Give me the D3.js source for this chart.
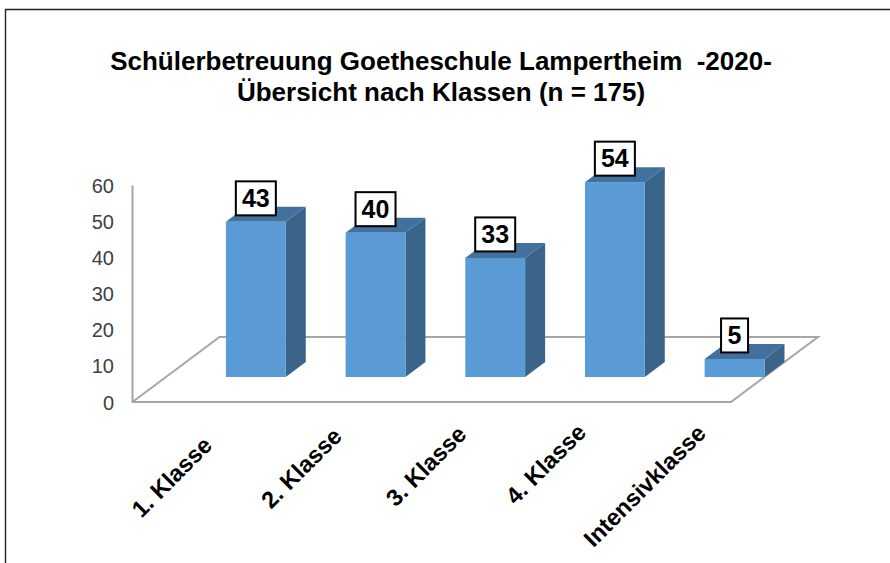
<!DOCTYPE html>
<html><head><meta charset="utf-8">
<script src="https://cdn.jsdelivr.net/npm/d3@7"></script>
<style>html,body{margin:0;background:#fff}svg{display:block}text{font-family:"Liberation Sans",Arial,sans-serif;white-space:pre}</style>
</head><body><svg id="c" width="890" height="563"></svg>
<script>
const categories = ["1. Klasse","2. Klasse","3. Klasse","4. Klasse","Intensivklasse"];
const values = [43,40,33,54,5];
const titleLines = ["Schülerbetreuung Goetheschule Lampertheim  -2020-","Übersicht nach Klassen (n = 175)"];
const yTicks = [0,10,20,30,40,50,60];

const svg = d3.select("#c");
const W=890,H=563;
const y = d3.scaleLinear().domain([0,60]).range([402,185.5]);
const x = d3.scaleBand().domain(categories).range([196,794.4]).paddingInner(0.5).paddingOuter(0.25);
const lift=25, dx=20, dy=15;
const floorFront=[132.5,731], floorDX=87, floorDY=65;
// the reference spaces its rotated labels unevenly
const labelShift=[[-19,6],[-9,-3],[-4,-5],[-4,-7],[-4,-6]];

// frame
svg.append("path").attr("d",`M5.5,${H} V9.5 H${W}`).attr("fill","none").attr("stroke","#222").attr("stroke-width",1.4);

// title
svg.append("g").selectAll("text").data(titleLines).join("text")
  .attr("x",441).attr("y",(d,i)=>70+i*31).attr("text-anchor","middle")
  .attr("font-size",26).attr("font-weight","bold").attr("fill","#000").text(d=>d);

// floor & wall
const grid="#a6a6a6";
svg.append("path").attr("fill","none").attr("stroke",grid).attr("stroke-width",2)
  .attr("d",d3.line()([[floorFront[0],y(60)],[floorFront[0],y(0)],[floorFront[1],y(0)],[floorFront[1]+floorDX,y(0)-floorDY],[floorFront[0]+floorDX,y(0)-floorDY],[floorFront[0],y(0)]]));

// y axis labels
const axisG=svg.append("g").attr("transform","translate(114,0)")
  .call(d3.axisLeft(y).tickValues(yTicks).tickSize(0).tickPadding(0));
axisG.select(".domain").remove();
axisG.selectAll("text").attr("font-size",20).attr("fill","#404040").attr("text-anchor","end").attr("dy","0.35em").style("font-family",'"Liberation Sans",Arial,sans-serif');

// bars
const bars=svg.append("g").selectAll("g").data(categories.map((c,i)=>({c,v:values[i]}))).join("g");
bars.append("path").attr("fill","#41719c").attr("d",d=>{const a=x(d.c),b=a+x.bandwidth(),t=y(d.v)-lift;
  return d3.line()([[a,t],[b,t],[b+dx,t-dy],[a+dx,t-dy]])+"Z";});
bars.append("path").attr("fill","#3a6489").attr("d",d=>{const b=x(d.c)+x.bandwidth(),t=y(d.v)-lift,g=y(0)-lift;
  return d3.line()([[b,t],[b+dx,t-dy],[b+dx,g-dy],[b,g]])+"Z";});
bars.append("rect").attr("x",d=>x(d.c)).attr("width",x.bandwidth())
  .attr("y",d=>y(d.v)-lift).attr("height",d=>y(0)-y(d.v)).attr("fill","#5b9bd5");

// value labels
bars.each(function(d){
  const g=d3.select(this), cx=x(d.c)+x.bandwidth()/2, bw=String(d.v).length>1?40:27, bh=34, bot=y(d.v)-lift-6.5;
  g.append("rect").attr("x",cx-bw/2).attr("y",bot-bh).attr("width",bw).attr("height",bh)
    .attr("fill","#fff").attr("stroke","#000").attr("stroke-width",2);
  g.append("text").attr("x",cx).attr("y",bot-bh/2+8.5).attr("text-anchor","middle")
    .attr("font-size",25).attr("font-weight","bold").attr("fill","#000").text(d.v);
});

// category labels
svg.append("g").selectAll("text").data(categories).join("text")
  .attr("text-anchor","end").attr("font-size",23.5).attr("font-weight","bold").attr("fill","#000")
  .attr("transform",(d,i)=>`translate(${x(d)+x.bandwidth()/2-35+labelShift[i][0]},${429+labelShift[i][1]}) rotate(-45)`)
  .attr("dy","0.7em").text(d=>d);
</script></body></html>
